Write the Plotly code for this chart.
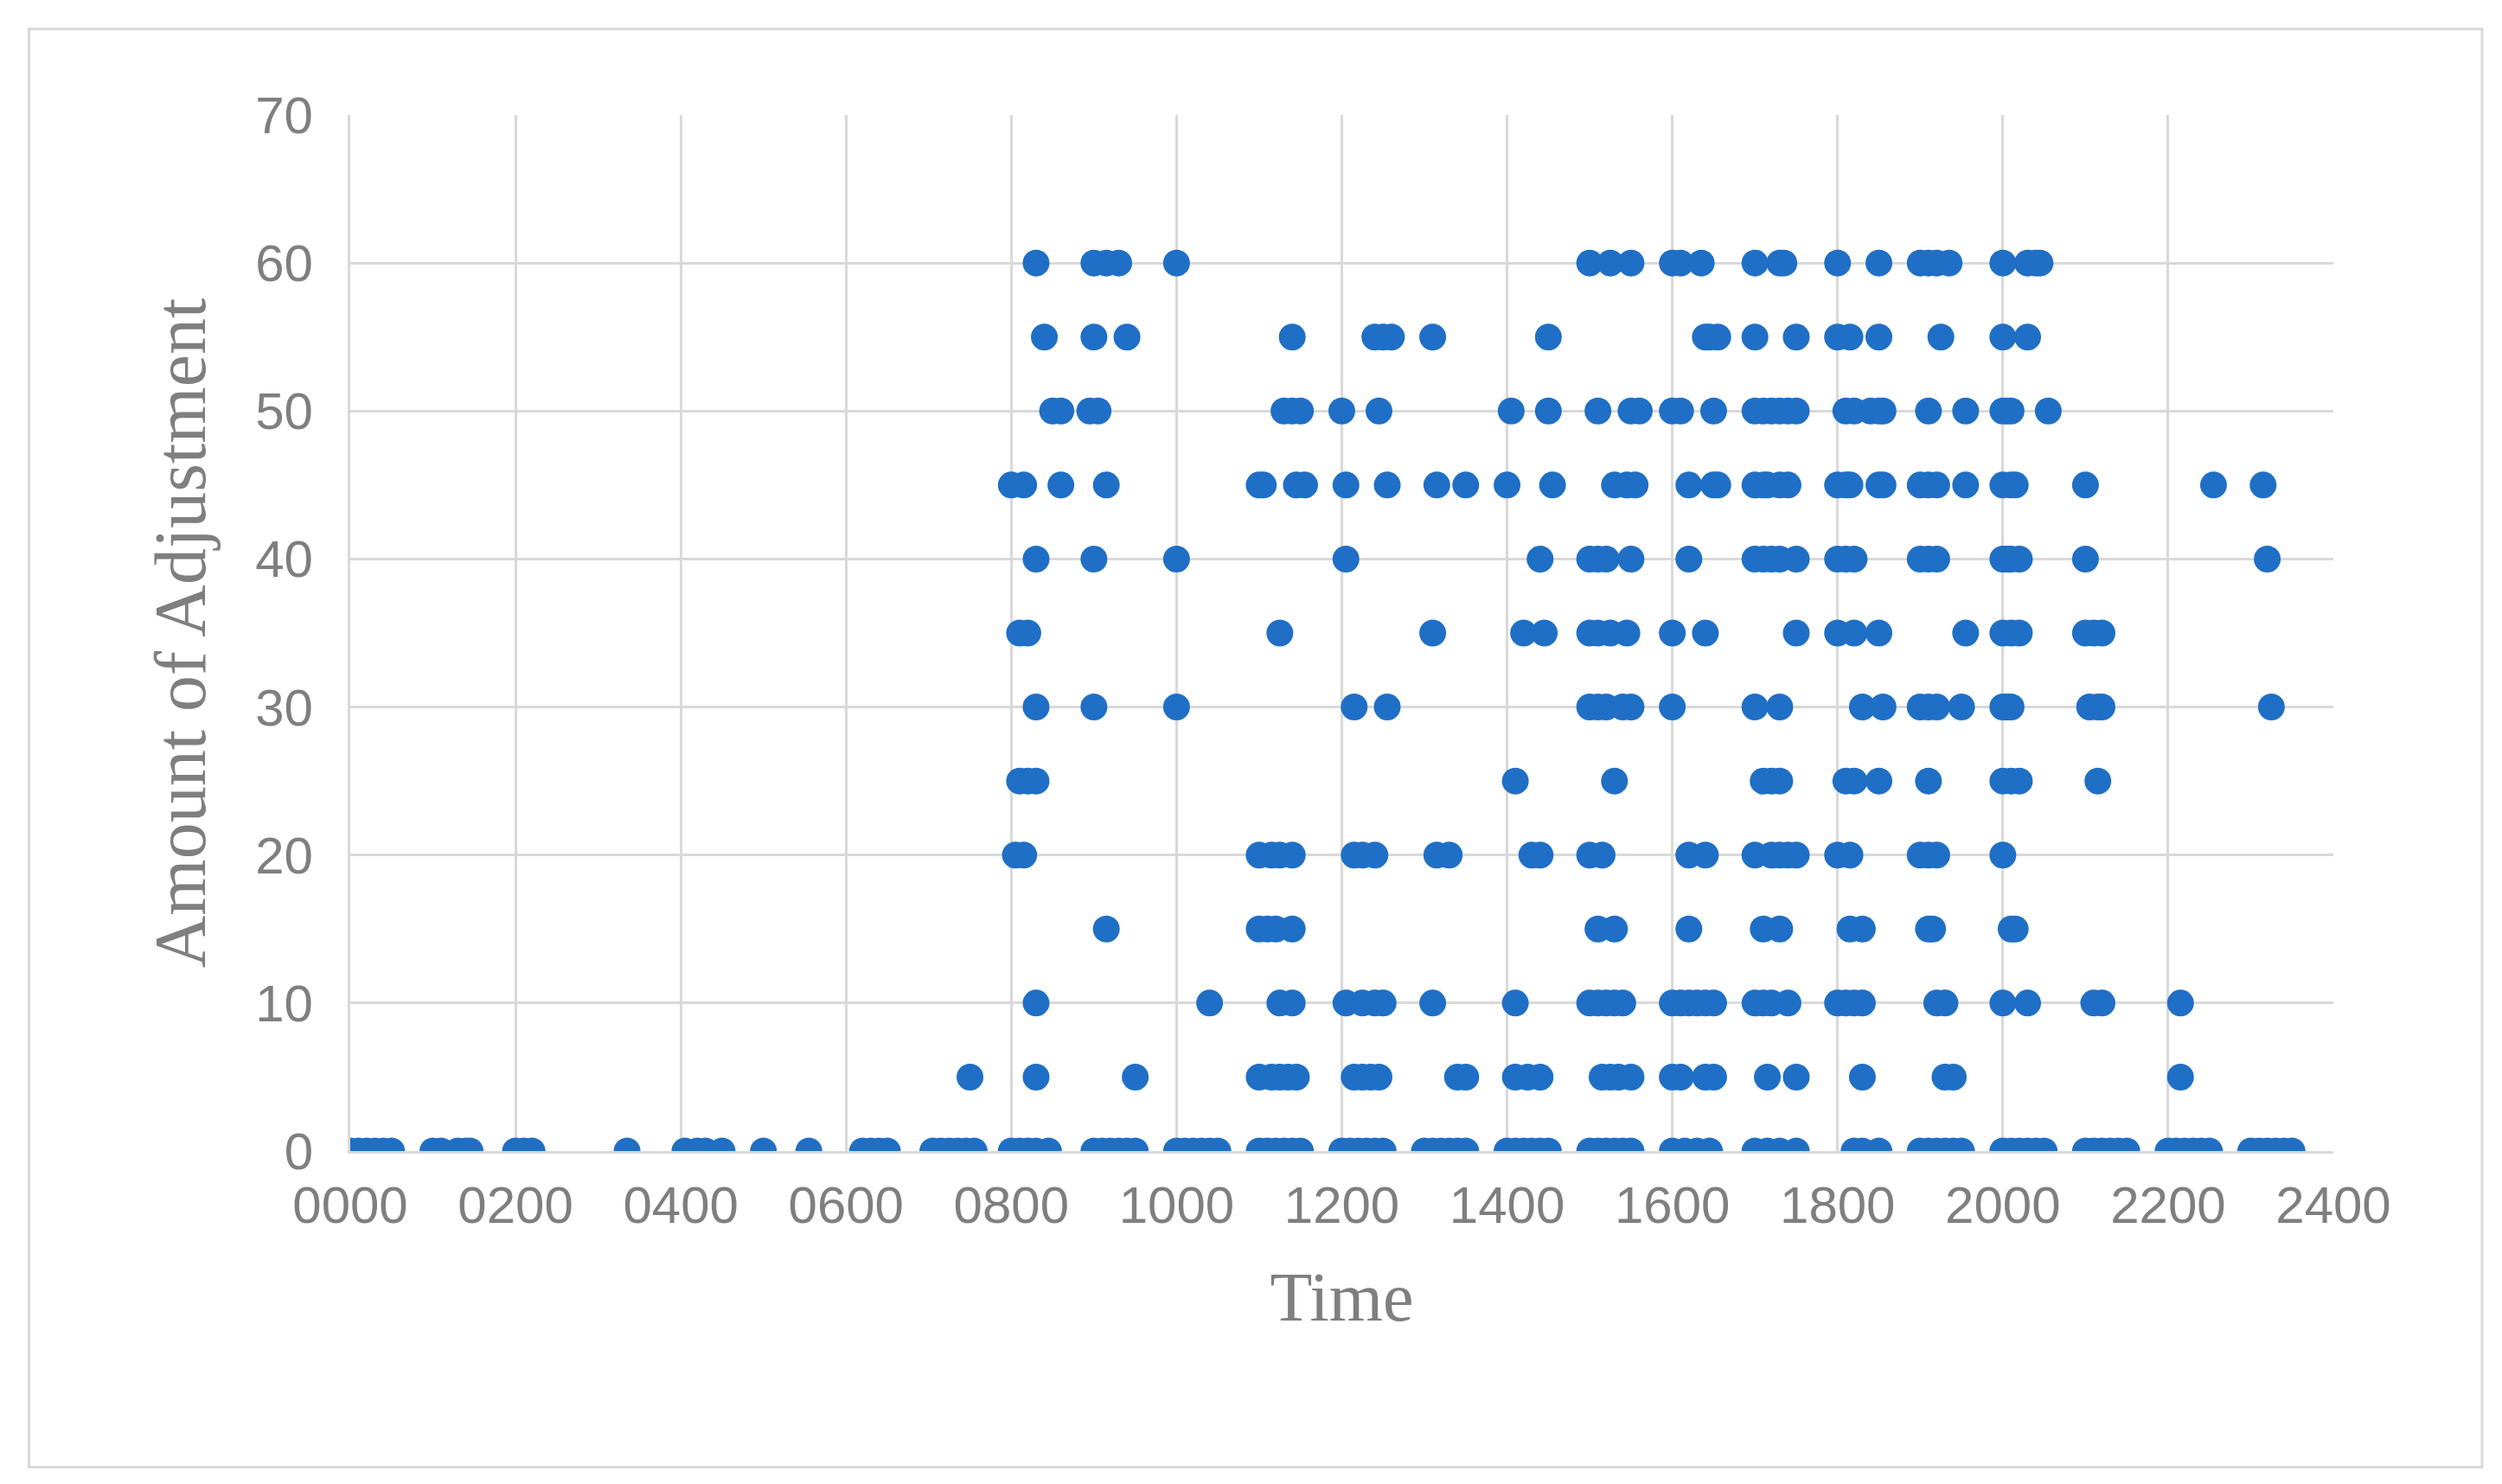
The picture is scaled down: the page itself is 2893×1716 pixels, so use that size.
import plotly.graph_objects as go

rows = {
60: [830, 900, 915, 930, 1000, 1500, 1525, 1550, 1600, 1610, 1635, 1700, 1730, 1735, 1800, 1850, 1900, 1910, 1920, 1935, 2000, 2030, 2040, 2045],
55: [840, 900, 940, 1140, 1240, 1250, 1260, 1310, 1450, 1640, 1645, 1655, 1700, 1750, 1800, 1815, 1850, 1925, 2000, 2030],
50: [850, 860, 895, 905, 1130, 1140, 1150, 1200, 1245, 1405, 1450, 1510, 1550, 1560, 1600, 1610, 1650, 1700, 1710, 1720, 1730, 1740, 1750, 1810, 1820, 1840, 1850, 1855, 1910, 1955, 2000, 2005, 2010, 2055],
45: [800, 815, 860, 915, 1100, 1105, 1145, 1155, 1205, 1255, 1315, 1350, 1400, 1455, 1530, 1545, 1555, 1620, 1650, 1655, 1700, 1710, 1715, 1730, 1740, 1800, 1810, 1815, 1850, 1855, 1900, 1910, 1920, 1955, 2000, 2010, 2015, 2100, 2255, 2315],
40: [830, 900, 1000, 1205, 1440, 1500, 1510, 1520, 1550, 1620, 1700, 1710, 1720, 1730, 1750, 1800, 1810, 1820, 1900, 1910, 1920, 2000, 2005, 2010, 2020, 2100, 2320],
35: [810, 820, 1125, 1310, 1420, 1445, 1500, 1510, 1525, 1545, 1600, 1640, 1750, 1800, 1820, 1850, 1955, 2000, 2010, 2020, 2100, 2110, 2120],
30: [830, 900, 1000, 1215, 1255, 1500, 1510, 1520, 1540, 1550, 1600, 1700, 1730, 1830, 1855, 1900, 1910, 1920, 1950, 2000, 2005, 2010, 2105, 2115, 2120, 2325],
25: [810, 820, 830, 1410, 1530, 1710, 1720, 1730, 1810, 1820, 1850, 1910, 2000, 2010, 2020, 2115],
20: [805, 815, 1100, 1115, 1125, 1140, 1215, 1225, 1240, 1315, 1330, 1430, 1440, 1500, 1515, 1620, 1640, 1700, 1720, 1730, 1740, 1750, 1800, 1815, 1900, 1910, 1920, 2000],
15: [915, 1100, 1110, 1120, 1140, 1510, 1530, 1620, 1710, 1730, 1815, 1830, 1910, 1915, 2010, 2015],
10: [830, 1040, 1125, 1140, 1205, 1225, 1240, 1250, 1310, 1410, 1500, 1510, 1520, 1530, 1540, 1600, 1610, 1620, 1630, 1640, 1650, 1700, 1710, 1720, 1740, 1800, 1810, 1820, 1830, 1920, 1930, 2000, 2030, 2110, 2120, 2215],
5: [750, 830, 950, 1100, 1115, 1125, 1135, 1145, 1215, 1225, 1235, 1245, 1340, 1350, 1410, 1425, 1440, 1515, 1525, 1535, 1550, 1600, 1610, 1640, 1650, 1715, 1750, 1830, 1930, 1940, 2215],
0: [0, 10, 20, 30, 40, 50, 100, 110, 130, 140, 145, 200, 210, 220, 335, 405, 420, 430, 450, 500, 555, 620, 630, 640, 650, 705, 715, 725, 735, 745, 755, 800, 810, 820, 830, 845, 900, 910, 920, 930, 940, 950, 1000, 1010, 1020, 1030, 1040, 1050, 1100, 1110, 1120, 1130, 1140, 1150, 1200, 1210, 1220, 1230, 1240, 1250, 1300, 1310, 1320, 1330, 1340, 1350, 1400, 1410, 1420, 1430, 1440, 1450, 1500, 1510, 1520, 1530, 1540, 1550, 1600, 1615, 1630, 1645, 1700, 1715, 1730, 1750, 1820, 1830, 1850, 1900, 1910, 1920, 1930, 1940, 1950, 2000, 2010, 2020, 2030, 2040, 2050, 2100, 2110, 2120, 2130, 2140, 2150, 2200, 2210, 2220, 2230, 2240, 2250, 2300, 2310, 2320, 2330, 2340, 2350],
}
tick_vals = list(range(0, 2401, 200))
tick_text = [f"{v:04d}" for v in tick_vals]

xs, ys = [], []
for amt, times in rows.items():
    xs += times
    ys += [amt] * len(times)

fig = go.Figure(go.Scatter(x=xs, y=ys, mode="markers",
                           marker=dict(size=31, color="#1F6FC6"), showlegend=False))
grid = "#D9D9D9"
fig.update_layout(
    width=2893, height=1716, paper_bgcolor="white", plot_bgcolor="white",
    margin=dict(l=397, r=203, t=125, b=393),
    font=dict(family="Liberation Sans", color="#7F7F7F", size=34),
)
fig.update_xaxes(range=[0, 2400], tickvals=tick_vals, ticktext=tick_text,
                 showgrid=True, gridcolor=grid, gridwidth=3, zeroline=False,
                 showline=True, linecolor=grid, linewidth=3, ticks="", tickfont=dict(size=60),
                 ticklabelstandoff=8,
                 title=dict(text="Time", font=dict(family="Liberation Serif", size=80, color="#7F7F7F"), standoff=45))
fig.update_yaxes(range=[0, 70], dtick=10, showgrid=True, gridcolor=grid, gridwidth=3,
                 zeroline=False, showline=True, linecolor=grid, linewidth=3, tickfont=dict(size=60),
                 ticks="", ticklabelstandoff=28,
                 title=dict(text="Amount of Adjustment", font=dict(family="Liberation Serif", size=84, color="#7F7F7F"), standoff=30))
fig.add_shape(type="rect", xref="paper", yref="paper", x0=-0.162, x1=1.075, y0=-0.305, y1=1.083,
              line=dict(color="#D9D9D9", width=3))
fig.write_html("out.html")
